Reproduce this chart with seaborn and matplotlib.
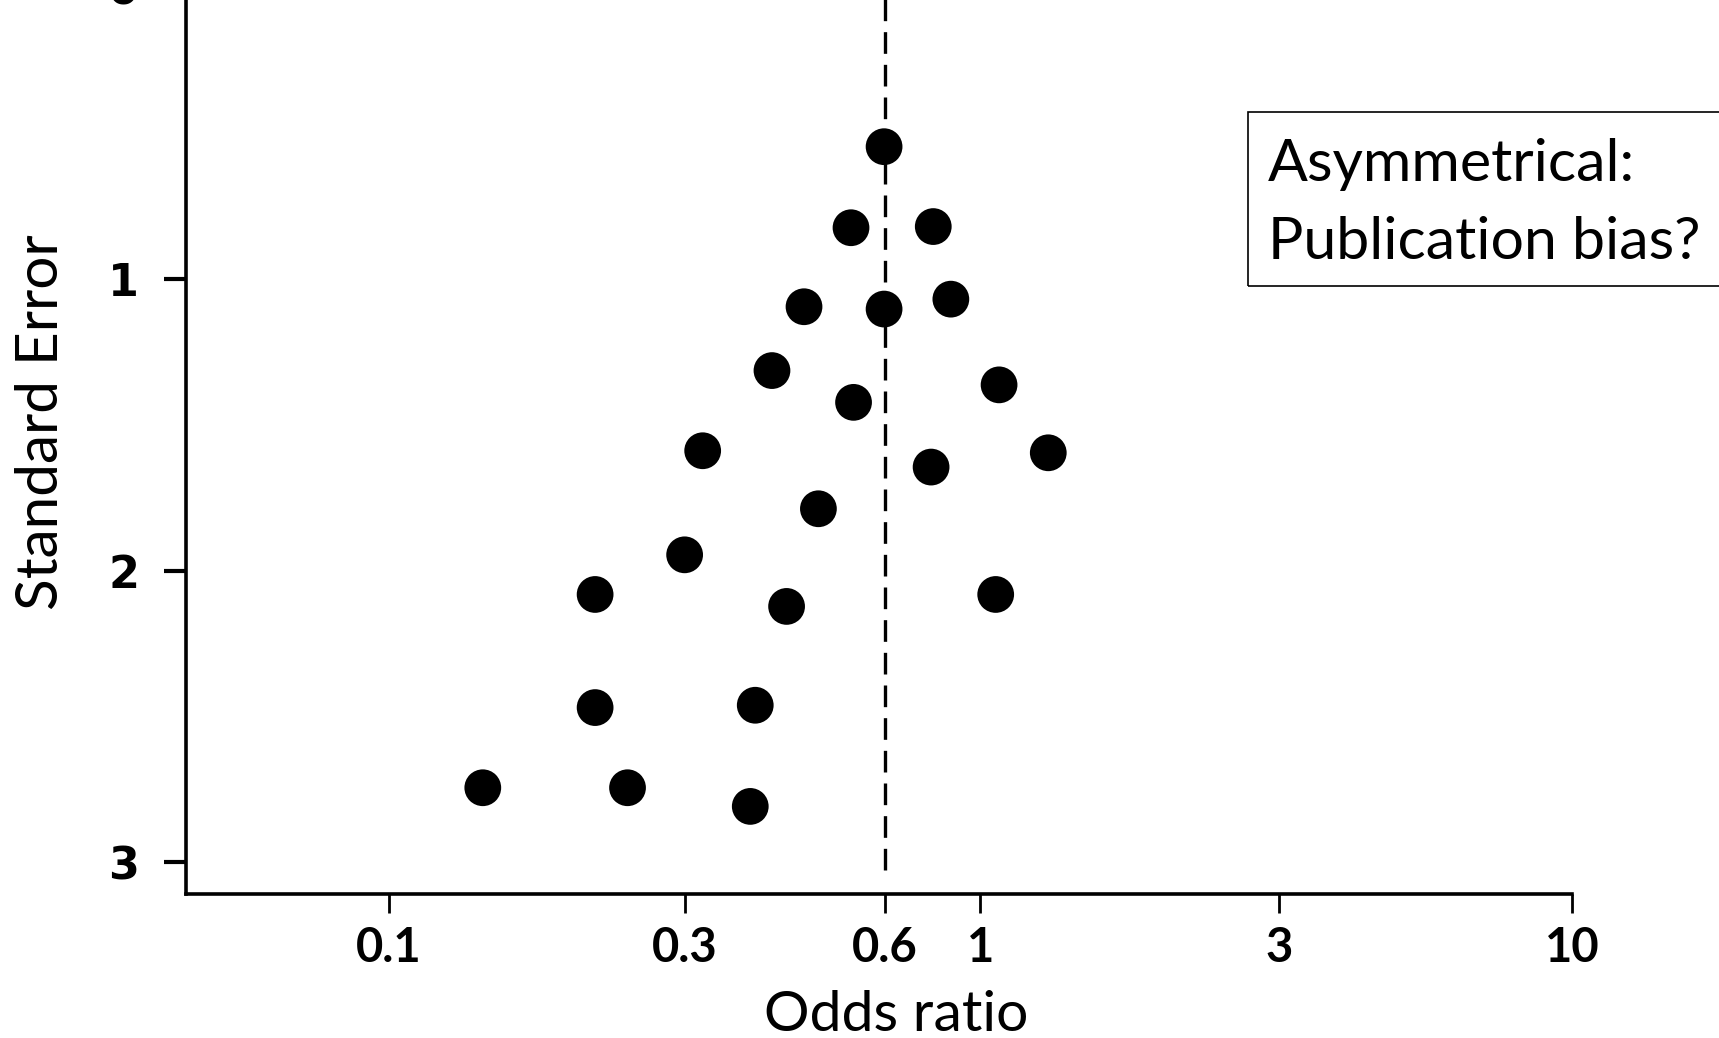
import numpy as np
import pandas as pd
import seaborn as sns
import matplotlib.pyplot as plt
from matplotlib.patches import Rectangle

# study estimates
odds_ratio = [0.687, 0.604, 0.832, 0.503, 0.687, 0.891, 0.444, 0.610, 1.075, 0.339, 0.825,
              1.302, 0.532, 0.316, 0.223, 0.470, 1.061, 0.223, 0.416, 0.144, 0.253, 0.408]
std_error = [0.545, 0.823, 0.819, 1.094, 1.102, 1.068, 1.313, 1.422, 1.362, 1.588, 1.644,
             1.595, 1.787, 1.945, 2.081, 2.122, 2.081, 2.469, 2.461, 2.744, 2.744, 2.808]
pooled_or = 0.69

x_ticks = [0.1, 0.316, 0.69, 1, 3.2, 10]
x_labels = ["0.1", "0.3", "0.6", "1", "3", "10"]
y_ticks = [0, 1, 2, 3]

df = pd.DataFrame({"or": odds_ratio, "se": std_error})

sns.set_theme(style="white", rc={"text.color": "black", "xtick.color": "black",
                                 "ytick.color": "black", "axes.edgecolor": "black"})
fig = plt.figure(figsize=(17.19, 10.38), dpi=100)
ax = fig.add_axes([0.1084, 0.1383, 0.806, 0.9577])

sns.scatterplot(data=df, x="or", y="se", ax=ax, s=700, color="black",
                edgecolor="none", legend=False, zorder=3)
ax.vlines(pooled_or, -0.3, 3.03, colors="black", linewidth=2.4,
          linestyles=(0, (6.5, 3.3)), zorder=2)

ax.set_xscale("log")
ax.set_xlim(0.0454, 10)
ax.set_ylim(3.11, -0.3)
ax.set_xticks(x_ticks)
ax.set_xticklabels(x_labels, fontfamily="Lato", fontweight="bold", fontsize=34)
ax.xaxis.set_minor_locator(plt.NullLocator())
ax.set_yticks(y_ticks)
ax.set_yticklabels([str(t) for t in y_ticks], fontfamily="DejaVu Sans",
                   fontweight="bold", fontsize=32)

for side in ["top", "right"]:
    ax.spines[side].set_visible(False)
for side in ["left", "bottom"]:
    ax.spines[side].set_linewidth(2.6)
ax.tick_params(axis="x", length=14, width=2, pad=9, direction="out", bottom=True,
               labelcolor="black")
ax.tick_params(axis="y", length=16, width=3, pad=18, direction="out", left=True,
               labelcolor="black")

ax.set_xlabel("")
ax.set_ylabel("")
fig.text(896 / 1719, 1 - 1031 / 1038, "Odds ratio", fontfamily="Lato", fontsize=41,
         ha="center", va="baseline")
fig.text(41 / 1719, 1 - 422 / 1038, "Standard Error", fontfamily="Lato", fontsize=42,
         ha="center", va="center", rotation=90)

# annotation box (runs off the right edge)
fig.patches.append(Rectangle((1247.6 / 1719, 1 - 286 / 1038), 0.4, (286 - 111.8) / 1038,
                             transform=fig.transFigure, fill=False, edgecolor="black",
                             linewidth=1.2))
fig.text(1268 / 1719, 1 - 181 / 1038, "Asymmetrical:", fontfamily="Lato", fontsize=42.5,
         ha="left", va="baseline")
fig.text(1268 / 1719, 1 - 259 / 1038, "Publication bias?", fontfamily="Lato", fontsize=42.5,
         ha="left", va="baseline")

fig.savefig("out.png", dpi=100)
